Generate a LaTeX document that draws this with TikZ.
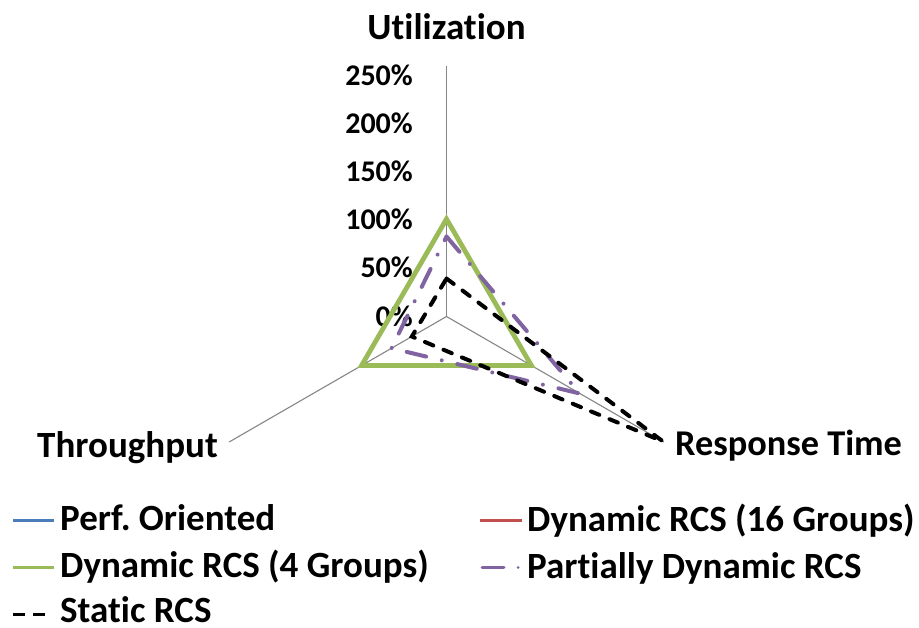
\documentclass[tikz,border=0pt]{standalone}
\usepackage{fontspec}
\setmainfont{Carlito}[Ligatures=NoCommon]
\usetikzlibrary{calc}
\definecolor{perfblue}{RGB}{74,126,187}
\definecolor{dynred}{RGB}{192,80,77}
\definecolor{dyngreen}{RGB}{155,187,89}
\definecolor{partpurple}{RGB}{128,100,162}
\definecolor{axisgray}{RGB}{134,134,134}
\frenchspacing
\tikzset{
  axisline/.style={draw=axisgray, line width=1.1pt},
  axislabel/.style={font=\fontsize{37}{42}\selectfont\bfseries, inner sep=0pt},
  ticklabel/.style={font=\fontsize{30}{34}\selectfont\bfseries, inner sep=0pt, anchor=base east},
  legendtext/.style={font=\fontsize{37}{42}\selectfont\bfseries, inner sep=0pt, anchor=base west},
  perfline/.style={draw=perfblue, line width=2.4pt, line join=miter},
  red16line/.style={draw=dynred, line width=2.4pt, line join=miter},
  green4line/.style={draw=dyngreen, line width=4.8pt, line join=miter},
  partline/.style={draw=partpurple, line width=4pt, line cap=round, line join=miter,
    dash pattern=on 20pt off 16pt on 0.01pt off 16pt},
  staticline/.style={draw=black, line width=4pt, line cap=round, line join=miter,
    dash pattern=on 9pt off 11pt},
}
\begin{document}
\begin{tikzpicture}[x=1pt,y=-1pt]
  \useasboundingbox (0,0) rectangle (919,627);
  % centre of the radar and the three axis directions
  \coordinate (C) at (446.5,316.5);
  \def\ua{-90}  % Utilization
  \def\ra{30}   % Response Time
  \def\ta{150}  % Throughput
  \def\axlen{251}

  % axes
  \coordinate (Uend) at ($(C)+(\ua:\axlen)$);
  \coordinate (Rend) at ($(C)+(\ra:\axlen)$);
  \coordinate (Tend) at ($(C)+(\ta:\axlen)$);
  \draw[axisline] (C) -- (Uend);
  \draw[axisline] (C) -- (Rend);
  \draw[axisline] (C) -- (Tend);

  % tick labels on the Utilization axis
  \foreach \v [count=\i from 0] in {0,50,100,150,200,250}
    \node[ticklabel] (tick\i) at (413,{326-48.2*\i}) {\v\%};

  % axis titles
  \node[axislabel, anchor=base] (ulab) at (446.5,39) {Utilization};
  \node[axislabel, anchor=base west, font=\fontsize{36.3}{42}\selectfont\bfseries] (rlab) at (675,455) {Response Time};
  \node[axislabel, anchor=base east] (tlab) at (218,457) {Throughput};

  % series: radii in px along (Utilization, Response Time, Throughput)
  \draw[perfline]  ($(C)+(\ua:98)$) -- ($(C)+(\ra:98)$) -- ($(C)+(\ta:99.5)$) -- cycle;
  \draw[red16line] ($(C)+(\ua:97.5)$) -- ($(C)+(\ra:97)$) -- ($(C)+(\ta:97)$) -- cycle;
  \draw[green4line]($(C)+(\ua:97.5)$) -- ($(C)+(\ra:98)$) -- ($(C)+(\ta:98)$) -- cycle;
  \draw[partline]  ($(C)+(\ua:80)$) -- ($(C)+(\ra:154)$) -- ($(C)+(\ta:63.5)$) -- cycle;
  \draw[staticline]($(C)+(\ua:38)$) -- ($(C)+(\ra:250)$) -- ($(C)+(\ta:40)$) -- cycle;

  % legend
  \coordinate (l1a) at (13,520.5);  \coordinate (l1b) at (54,520.5);
  \coordinate (l2a) at (13,567.5);  \coordinate (l2b) at (54,567.5);
  \coordinate (l3a) at (13,614.5);  \coordinate (l3b) at (50,614.5);
  \coordinate (r1a) at (480,520.5); \coordinate (r1b) at (522,520.5);
  \coordinate (r2a) at (482,567.5); \coordinate (r2b) at (522,567.5);
  \draw[perfblue, line width=3pt] (l1a) -- (l1b);
  \draw[dyngreen, line width=3pt] (l2a) -- (l2b);
  \draw[black, line width=3pt, dash pattern=on 12pt off 8pt] (l3a) -- (l3b);
  \draw[dynred, line width=3pt] (r1a) -- (r1b);
  \draw[partpurple, line width=3pt, line cap=round, dash pattern=on 22pt off 14pt on 0.01pt off 14pt] (r2a) -- (r2b);
  \node[legendtext] (leg1) at (60,530) {Perf. Oriented};
  \node[legendtext] (leg2) at (60,577) {Dynamic RCS (4 Groups)};
  \node[legendtext] (leg3) at (60,622) {Static RCS};
  \node[legendtext] (leg4) at (527,531) {Dynamic RCS (16 Groups)};
  \node[legendtext] (leg5) at (527,578) {Partially Dynamic RCS};
\end{tikzpicture}
\end{document}
